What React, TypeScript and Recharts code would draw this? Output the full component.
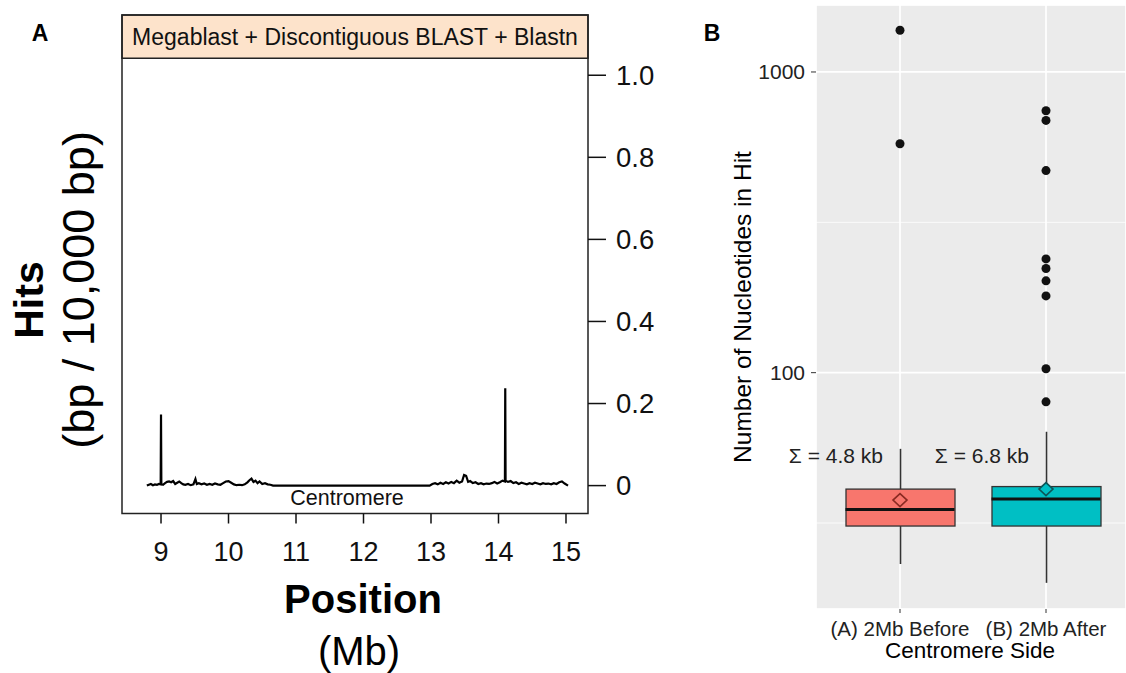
import React from 'react';
import {
  ComposedChart,
  Line,
  XAxis,
  YAxis,
  ReferenceArea,
  ReferenceDot,
  CartesianGrid,
  Bar,
  Scatter,
} from 'recharts';

const FONT = '"Liberation Sans", Arial, Helvetica, sans-serif';

// ---------------- Panel A data ----------------
const positions = [
  8.79, 8.82, 8.85, 8.88, 8.91, 8.94, 8.97, 8.995, 9.0, 9.005, 9.03, 9.06, 9.09, 9.12, 9.15, 9.18,
  9.21, 9.24, 9.27, 9.3, 9.33, 9.36, 9.4, 9.44, 9.48, 9.51, 9.53, 9.56, 9.6, 9.64, 9.68, 9.72,
  9.76, 9.8, 9.84, 9.88, 9.92, 9.96, 10.0, 10.04, 10.08, 10.12, 10.16, 10.2, 10.24, 10.28, 10.31,
  10.34, 10.37, 10.4, 10.43, 10.46, 10.5, 10.54, 10.58, 10.62, 10.66, 12.98, 13.02, 13.06, 13.1,
  13.14, 13.18, 13.22, 13.26, 13.3, 13.34, 13.38, 13.42, 13.46, 13.49, 13.52, 13.55, 13.58, 13.62,
  13.66, 13.7, 13.74, 13.78, 13.82, 13.86, 13.9, 13.94, 13.98, 14.02, 14.06, 14.095, 14.1, 14.105,
  14.14, 14.18, 14.22, 14.26, 14.3, 14.34, 14.38, 14.42, 14.46, 14.5, 14.54, 14.58, 14.62, 14.66,
  14.7, 14.74, 14.78, 14.82, 14.86, 14.9, 14.94, 14.98, 15.03,
];
const hits = [
  0, 0.002, 0.004, 0.001, 0.003, 0.002, 0.004, 0.003, 0.173, 0.004, 0.002, 0.006, 0.009, 0.01, 0.008, 0.011,
  0.004, 0.007, 0.01, 0.006, 0.003, 0.002, 0.004, 0.001, 0.003, 0.016, 0.004, 0.006, 0.003, 0.005, 0.002, 0.004,
  0.002, 0.005, 0.003, 0.002, 0.006, 0.01, 0.011, 0.007, 0.003, 0.001, 0.002, 0.001, 0.003, 0.008, 0.013,
  0.017, 0.009, 0.012, 0.006, 0.01, 0.004, 0.006, 0.003, 0.002, 0, 0, 0.004, 0.006, 0.003,
  0.007, 0.004, 0.008, 0.005, 0.009, 0.006, 0.012, 0.007, 0.01, 0.026, 0.024, 0.009, 0.011, 0.006,
  0.008, 0.004, 0.006, 0.003, 0.005, 0.004, 0.006, 0.009, 0.005, 0.008, 0.012, 0.01, 0.237, 0.012,
  0.009, 0.011, 0.006, 0.008, 0.004, 0.007, 0.005, 0.003, 0.006, 0.004, 0.007, 0.005, 0.003, 0.006,
  0.004, 0.005, 0.003, 0.006, 0.004, 0.008, 0.01, 0.005, 0,
];
const xTicksA = [9, 10, 11, 12, 13, 14, 15];
const yTicksA = [0, 0.2, 0.4, 0.6, 0.8, 1.0];
const stripTitle = 'Megablast + Discontiguous BLAST + Blastn';
const centromereLabel = 'Centromere';

// ---------------- Panel B data ----------------
const sides = ['(A) 2Mb Before', '(B) 2Mb After'];
const whiskerLow = [23.1, 20.0];
const q1 = [30.9, 30.9];
const medians = [35.1, 38.0];
const q3 = [41.0, 41.8];
const whiskerHigh = [55.8, 63.6];
const means = [37.7, 41.0];
const totals = ['Σ = 4.8 kb', 'Σ = 6.8 kb'];
const outliersA = [1377, 577];
const outliersB = [743, 690, 470, 239, 222, 202, 180, 103, 80];
const yTicksB = [100, 1000];
const minorTicksB = [31.62, 316.2];

// ---------------- styles ----------------
const boxColors = ['#F8766D', '#00BFC4'];
const diamondStroke = ['#8a2a22', '#0c5558'];
const BOX_W = 109;

const dataA = positions.map((p, i) => ({ pos: p, hits: hits[i] }));
const boxData = sides.map((s, i) => ({
  cat: s,
  whisker: [whiskerLow[i], whiskerHigh[i]],
  box: [q1[i], q3[i]],
}));
const medianData = sides.map((s, i) => ({ cat: s, value: medians[i] }));
const meanData = sides.map((s, i) => ({ cat: s, value: means[i] }));
const outlierData = [
  ...outliersA.map((v) => ({ cat: sides[0], value: v })),
  ...outliersB.map((v) => ({ cat: sides[1], value: v })),
];

const WhiskerShape = (props: any) => {
  const { x, y, width, height } = props;
  const cx = x + width / 2;
  return <line x1={cx} x2={cx} y1={y} y2={y + height} stroke="#333" strokeWidth={1.6} />;
};

const BoxShape = (props: any) => {
  const { x, y, width, height, payload } = props;
  const i = sides.indexOf(payload.cat);
  const top = Math.min(y, y + height);
  const h = Math.abs(height);
  return <rect x={x} y={top} width={width} height={h} fill={boxColors[i]} stroke="#333" strokeWidth={1.3} />;
};

const MedianShape = (props: any) => {
  const { cx, cy } = props;
  return <line x1={cx - BOX_W / 2} x2={cx + BOX_W / 2} y1={cy} y2={cy} stroke="#111" strokeWidth={3} />;
};

const DiamondShape = (props: any) => {
  const { cx, cy, payload } = props;
  const i = sides.indexOf(payload.cat);
  const pts = `${cx},${cy - 6.5} ${cx + 7},${cy} ${cx},${cy + 6.5} ${cx - 7},${cy}`;
  return <polygon points={pts} fill={boxColors[i]} stroke={diamondStroke[i]} strokeWidth={1.6} />;
};

const DotShape = (props: any) => {
  const { cx, cy } = props;
  return <circle cx={cx} cy={cy} r={4.5} fill="#111" />;
};

const xDomA: [number, number] = [8.422, 15.326];
const yDomA: [number, number] = [-0.068, 1.1468];
const stripBottom = 1.0414;
const yDomB: [number, number] = [16.37, 1670];
const totalsY = 53.2;

export default function App() {
  return (
    <div style={{ position: 'absolute', left: 0, top: 0, width: 1126, height: 673, background: '#fff', fontFamily: FONT }}>
      <div style={{ position: 'absolute', left: 0, top: 0 }}>
        <ComposedChart width={700} height={673} data={dataA} margin={{ top: 15, right: 0, bottom: 0, left: 122 }}>
          <XAxis
            type="number"
            dataKey="pos"
            domain={xDomA}
            allowDataOverflow
            ticks={xTicksA}
            interval={0}
            height={159.5}
            tickSize={10}
            tickMargin={18}
            axisLine={false}
            tickLine={{ stroke: '#111', strokeWidth: 1.5 }}
            tick={{ fontSize: 27, fill: '#111', fontFamily: FONT }}
          />
          <YAxis
            orientation="right"
            type="number"
            domain={yDomA}
            allowDataOverflow
            ticks={yTicksA}
            interval={0}
            width={112}
            tickSize={18}
            tickMargin={10}
            axisLine={false}
            tickLine={{ stroke: '#111', strokeWidth: 1.5 }}
            tickFormatter={(v: number) => (v === 0 ? '0' : v.toFixed(1))}
            tick={{ fontSize: 27.5, fill: '#111', fontFamily: FONT }}
          />
          <ReferenceArea
            x1={xDomA[0]}
            x2={xDomA[1]}
            y1={stripBottom}
            y2={yDomA[1]}
            fill="#FDE3CB"
            fillOpacity={1}
            stroke="#222"
            strokeWidth={1.5}
            ifOverflow="visible"
            label={{ value: stripTitle, position: 'center', fontSize: 23, fill: '#111', fontFamily: FONT }}
          />
          <ReferenceArea
            x1={xDomA[0]}
            x2={xDomA[1]}
            y1={yDomA[0]}
            y2={yDomA[1]}
            fill="none"
            fillOpacity={0}
            stroke="#222"
            strokeWidth={1.5}
            ifOverflow="visible"
          />
          <Line
            dataKey="hits"
            type="linear"
            stroke="#000"
            strokeWidth={2.2}
            dot={false}
            activeDot={false}
            isAnimationActive={false}
          />
          <ReferenceDot
            x={11.756}
            y={-0.0287}
            r={0.01}
            fill="none"
            stroke="none"
            ifOverflow="visible"
            label={{ value: centromereLabel, position: 'center', fontSize: 21.5, fill: '#111', fontFamily: FONT }}
          />
        </ComposedChart>
      </div>

      <div style={{ position: 'absolute', left: 700, top: 0 }}>
        <ComposedChart width={426} height={673} data={boxData} margin={{ top: 5, right: 0, bottom: 0, left: 0 }}>
          <CartesianGrid fill="#EBEBEB" fillOpacity={1} stroke="#fff" strokeWidth={1.7} />
          <CartesianGrid yAxisId="minor" vertical={false} stroke="#fff" strokeWidth={0.8} />
          <XAxis
            dataKey="cat"
            type="category"
            allowDuplicatedCategory={false}
            padding={{ left: 11, right: 7 }}
            height={64}
            tickSize={4}
            tickMargin={8}
            axisLine={false}
            tickLine={{ stroke: '#333' }}
            tick={{ fontSize: 20.5, fill: '#222', fontFamily: FONT }}
          />
          <XAxis
            xAxisId="w"
            dataKey="cat"
            type="category"
            allowDuplicatedCategory={false}
            padding={{ left: 11, right: 7 }}
            hide
          />
          <YAxis
            scale="log"
            type="number"
            domain={yDomB}
            allowDataOverflow
            ticks={yTicksB}
            interval={0}
            width={116}
            tickSize={5}
            tickMargin={6}
            axisLine={false}
            tickLine={{ stroke: '#333' }}
            tick={{ fontSize: 21, fill: '#222', fontFamily: FONT }}
          />
          <YAxis yAxisId="minor" scale="log" type="number" domain={yDomB} allowDataOverflow ticks={minorTicksB} hide />
          <Bar xAxisId="w" dataKey="whisker" barSize={BOX_W} shape={WhiskerShape} isAnimationActive={false} />
          <Bar dataKey="box" barSize={BOX_W} shape={BoxShape} isAnimationActive={false} />
          <Scatter data={medianData} dataKey="value" shape={MedianShape} isAnimationActive={false} />
          <Scatter data={meanData} dataKey="value" shape={DiamondShape} isAnimationActive={false} />
          <Scatter data={outlierData} dataKey="value" shape={DotShape} isAnimationActive={false} />
          {sides.map((s, i) => (
            <ReferenceDot
              key={s}
              x={s}
              y={totalsY}
              r={0.01}
              fill="none"
              stroke="none"
              label={{ value: totals[i], position: 'left', offset: 17, fontSize: 21, fill: '#222', fontFamily: FONT }}
            />
          ))}
        </ComposedChart>
      </div>

      <svg width={1126} height={673} style={{ position: 'absolute', left: 0, top: 0, pointerEvents: 'none' }}>
        <g fontFamily={FONT} fill="#000">
          <text x={40} y={41} fontSize={23} fontWeight="bold" textAnchor="middle">A</text>
          <text x={712} y={41} fontSize={23} fontWeight="bold" textAnchor="middle">B</text>
          <text x={43} y={300} fontSize={41} fontWeight="bold" textAnchor="middle" transform="rotate(-90 43 300)">Hits</text>
          <text x={94} y={290} fontSize={45} textAnchor="middle" transform="rotate(-90 94 290)">(bp / 10,000 bp)</text>
          <text x={363} y={613} fontSize={40} fontWeight="bold" textAnchor="middle">Position</text>
          <text x={359} y={665} fontSize={40} textAnchor="middle">(Mb)</text>
          <text x={751} y={307} fontSize={24.5} textAnchor="middle" transform="rotate(-90 751 307)">Number of Nucleotides in Hit</text>
          <text x={970} y={658} fontSize={22.5} textAnchor="middle">Centromere Side</text>
        </g>
      </svg>
    </div>
  );
}
